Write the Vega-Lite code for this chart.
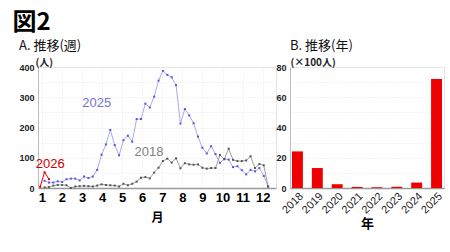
{
  "$schema": "https://vega.github.io/schema/vega-lite/v6.json",
  "background": "white",
  "padding": {"left": 12, "top": 10, "right": 4, "bottom": 2},
  "title": {"text": "図2", "anchor": "start", "fontSize": 24, "font": "Noto Sans CJK JP", "fontWeight": "bold", "color": "#000", "offset": 5, "dx": -6},
  "config": {
    "font": "Liberation Sans",
    "view": {"stroke": "#e4e4e4"},
    "concat": {"spacing": -2},
    "axis": {"ticks": false, "labelFont": "Liberation Sans", "gridColor": "#e6e6e6", "gridDash": [1, 2]}
  },
  "datasets": {
    "weekly": [
      {"series": "2025", "week": 1, "value": 24}, {"series": "2025", "week": 2, "value": 18}, {"series": "2025", "week": 3, "value": 18}, {"series": "2025", "week": 4, "value": 22},
      {"series": "2025", "week": 5, "value": 20}, {"series": "2025", "week": 6, "value": 29}, {"series": "2025", "week": 7, "value": 31}, {"series": "2025", "week": 8, "value": 31},
      {"series": "2025", "week": 9, "value": 25}, {"series": "2025", "week": 10, "value": 38}, {"series": "2025", "week": 11, "value": 33}, {"series": "2025", "week": 12, "value": 38},
      {"series": "2025", "week": 13, "value": 60}, {"series": "2025", "week": 14, "value": 110}, {"series": "2025", "week": 15, "value": 144}, {"series": "2025", "week": 16, "value": 192},
      {"series": "2025", "week": 17, "value": 142}, {"series": "2025", "week": 18, "value": 108}, {"series": "2025", "week": 19, "value": 158}, {"series": "2025", "week": 20, "value": 173},
      {"series": "2025", "week": 21, "value": 153}, {"series": "2025", "week": 22, "value": 228}, {"series": "2025", "week": 23, "value": 228}, {"series": "2025", "week": 24, "value": 279},
      {"series": "2025", "week": 25, "value": 266}, {"series": "2025", "week": 26, "value": 302}, {"series": "2025", "week": 27, "value": 355}, {"series": "2025", "week": 28, "value": 387},
      {"series": "2025", "week": 29, "value": 374}, {"series": "2025", "week": 30, "value": 366}, {"series": "2025", "week": 31, "value": 340}, {"series": "2025", "week": 32, "value": 213},
      {"series": "2025", "week": 33, "value": 261}, {"series": "2025", "week": 34, "value": 240}, {"series": "2025", "week": 35, "value": 214}, {"series": "2025", "week": 36, "value": 170},
      {"series": "2025", "week": 37, "value": 133}, {"series": "2025", "week": 38, "value": 114}, {"series": "2025", "week": 39, "value": 138}, {"series": "2025", "week": 40, "value": 112},
      {"series": "2025", "week": 41, "value": 83}, {"series": "2025", "week": 42, "value": 96}, {"series": "2025", "week": 43, "value": 94}, {"series": "2025", "week": 44, "value": 69},
      {"series": "2025", "week": 45, "value": 72}, {"series": "2025", "week": 46, "value": 59}, {"series": "2025", "week": 47, "value": 45}, {"series": "2025", "week": 48, "value": 60},
      {"series": "2025", "week": 49, "value": 55}, {"series": "2025", "week": 50, "value": 66}, {"series": "2025", "week": 51, "value": 40}, {"series": "2025", "week": 52, "value": 5},
      {"series": "2018", "week": 1, "value": 2}, {"series": "2018", "week": 2, "value": 3}, {"series": "2018", "week": 3, "value": 8}, {"series": "2018", "week": 4, "value": 10},
      {"series": "2018", "week": 5, "value": 10}, {"series": "2018", "week": 6, "value": 9}, {"series": "2018", "week": 7, "value": 0}, {"series": "2018", "week": 8, "value": 5},
      {"series": "2018", "week": 9, "value": 6}, {"series": "2018", "week": 10, "value": 7}, {"series": "2018", "week": 11, "value": 6}, {"series": "2018", "week": 12, "value": 5},
      {"series": "2018", "week": 13, "value": 8}, {"series": "2018", "week": 14, "value": 12}, {"series": "2018", "week": 15, "value": 10}, {"series": "2018", "week": 16, "value": 9},
      {"series": "2018", "week": 17, "value": 8}, {"series": "2018", "week": 18, "value": 5}, {"series": "2018", "week": 19, "value": 14}, {"series": "2018", "week": 20, "value": 9},
      {"series": "2018", "week": 21, "value": 14}, {"series": "2018", "week": 22, "value": 21}, {"series": "2018", "week": 23, "value": 34}, {"series": "2018", "week": 24, "value": 36},
      {"series": "2018", "week": 25, "value": 32}, {"series": "2018", "week": 26, "value": 51}, {"series": "2018", "week": 27, "value": 67}, {"series": "2018", "week": 28, "value": 89},
      {"series": "2018", "week": 29, "value": 97}, {"series": "2018", "week": 30, "value": 84}, {"series": "2018", "week": 31, "value": 98}, {"series": "2018", "week": 32, "value": 65},
      {"series": "2018", "week": 33, "value": 82}, {"series": "2018", "week": 34, "value": 78}, {"series": "2018", "week": 35, "value": 77}, {"series": "2018", "week": 36, "value": 78},
      {"series": "2018", "week": 37, "value": 67}, {"series": "2018", "week": 38, "value": 64}, {"series": "2018", "week": 39, "value": 66}, {"series": "2018", "week": 40, "value": 66},
      {"series": "2018", "week": 41, "value": 109}, {"series": "2018", "week": 42, "value": 95}, {"series": "2018", "week": 43, "value": 130}, {"series": "2018", "week": 44, "value": 93},
      {"series": "2018", "week": 45, "value": 89}, {"series": "2018", "week": 46, "value": 89}, {"series": "2018", "week": 47, "value": 91}, {"series": "2018", "week": 48, "value": 105},
      {"series": "2018", "week": 49, "value": 66}, {"series": "2018", "week": 50, "value": 79}, {"series": "2018", "week": 51, "value": 75}, {"series": "2018", "week": 52, "value": 5},
      {"series": "2026", "week": 0, "value": 4}, {"series": "2026", "week": 1, "value": 52}, {"series": "2026", "week": 2, "value": 29}
    ],
    "labels": [
      {"label": "2025", "week": 12.9, "value": 282},
      {"label": "2018", "week": 24.8, "value": 120},
      {"label": "2026", "week": 2.3, "value": 80}
    ],
    "yearly": [
      {"year": "2018", "value": 24.2}, {"year": "2019", "value": 13.2}, {"year": "2020", "value": 2.5}, {"year": "2021", "value": 0.7},
      {"year": "2022", "value": 0.5}, {"year": "2023", "value": 0.8}, {"year": "2024", "value": 3.6}, {"year": "2025", "value": 72}
    ]
  },
  "hconcat": [
    {
      "title": {"text": "A. 推移(週)", "anchor": "start", "frame": "bounds", "font": "Noto Sans CJK JP", "fontSize": 13, "fontWeight": "normal", "color": "#111", "offset": 4, "dx": 0},
      "width": 238,
      "height": 121,
      "encoding": {
        "x": {"field": "week", "type": "quantitative",
          "scale": {"domain": [-0.5, 53.8], "nice": false, "zero": false},
          "axis": {"values": [0.38, 4.96, 9.54, 14.12, 18.7, 23.28, 27.86, 32.44, 37.02, 41.6, 46.18, 50.76],
            "labelExpr": "round((datum.value - 0.38) / 4.58) + 1",
            "labelFontSize": 13, "labelFontWeight": "bold", "labelColor": "#000", "labelPadding": 3,
            "domainColor": "#999", "domainWidth": 1.5,
            "title": "月", "titleFont": "Noto Sans CJK JP", "titleFontSize": 12, "titleFontWeight": "bold", "titleColor": "#000", "titlePadding": 8}},
        "y": {"field": "value", "type": "quantitative",
          "scale": {"domain": [0, 400], "nice": false},
          "axis": {"values": [0, 50, 100, 150, 200, 250, 300, 350, 400],
            "labelExpr": "datum.value % 100 == 0 ? datum.label : ''",
            "labelFontSize": 9, "labelFontWeight": "bold", "labelColor": "#222", "labelPadding": 4,
            "domainColor": "#bbb",
            "title": "(人)", "titleAngle": 0, "titleX": -3, "titleY": 0, "titleAlign": "left", "titleBaseline": "bottom",
            "titleFont": "Noto Sans CJK JP", "titleFontSize": 10, "titleFontWeight": "bold", "titleColor": "#222"}}
      },
      "layer": [
        {
          "data": {"name": "weekly"},
          "mark": {"type": "line", "interpolate": "linear"},
          "encoding": {
            "stroke": {"field": "series", "type": "nominal", "scale": {"domain": ["2018", "2025", "2026"], "range": ["#9c9c9c", "#a9a9ee", "#e00000"]}, "legend": null},
            "strokeWidth": {"field": "series", "type": "nominal", "scale": {"domain": ["2018", "2025", "2026"], "range": [1, 1, 2]}, "legend": null}
          }
        },
        {
          "data": {"name": "weekly"},
          "mark": {"type": "point", "filled": true, "shape": "square", "opacity": 1},
          "encoding": {
            "fill": {"field": "series", "type": "nominal", "scale": {"domain": ["2018", "2025", "2026"], "range": ["#555555", "#5555dd", "#e00000"]}, "legend": null},
            "size": {"field": "series", "type": "nominal", "scale": {"domain": ["2018", "2025", "2026"], "range": [4, 4, 12]}, "legend": null}
          }
        },
        {
          "data": {"name": "labels"},
          "transform": [{"filter": "datum.label == '2025'"}],
          "mark": {"type": "text", "fontSize": 13, "color": "#7272d8", "font": "Liberation Sans"},
          "encoding": {"text": {"field": "label"}}
        },
        {
          "data": {"name": "labels"},
          "transform": [{"filter": "datum.label == '2018'"}],
          "mark": {"type": "text", "fontSize": 13, "color": "#808080", "font": "Liberation Sans"},
          "encoding": {"text": {"field": "label"}}
        },
        {
          "data": {"name": "labels"},
          "transform": [{"filter": "datum.label == '2026'"}],
          "mark": {"type": "text", "fontSize": 13, "color": "#cc0000", "font": "Liberation Sans"},
          "encoding": {"text": {"field": "label"}}
        }
      ]
    },
    {
      "title": {"text": "B. 推移(年)", "anchor": "start", "frame": "group", "font": "Noto Sans CJK JP", "fontSize": 13, "fontWeight": "normal", "color": "#111", "offset": 4},
      "width": 154,
      "height": 121,
      "data": {"name": "yearly"},
      "mark": {"type": "bar", "color": "#ee0000"},
      "encoding": {
        "x": {"field": "year", "type": "nominal", "sort": null,
          "scale": {"paddingInner": 0.45, "paddingOuter": 0.1},
          "axis": {"labelAngle": -45, "labelFontSize": 11, "labelColor": "#222", "labelPadding": 2, "grid": false,
            "domainColor": "#999", "domainWidth": 1.5,
            "title": "年", "titleFont": "Noto Sans CJK JP", "titleFontSize": 13, "titleFontWeight": "bold", "titleColor": "#000", "titlePadding": 2}},
        "y": {"field": "value", "type": "quantitative",
          "scale": {"domain": [0, 80], "nice": false},
          "axis": {"values": [0, 10, 20, 30, 40, 50, 60, 70, 80],
            "labelExpr": "datum.value % 20 == 0 ? datum.label : ''",
            "labelFontSize": 9, "labelFontWeight": "bold", "labelColor": "#222", "labelPadding": 4,
            "domainColor": "#bbb",
            "title": "(×100人)", "titleAngle": 0, "titleX": 0, "titleY": 0, "titleAlign": "left", "titleBaseline": "bottom",
            "titleFont": "Noto Sans CJK JP", "titleFontSize": 10, "titleFontWeight": "bold", "titleColor": "#222"}}
      }
    }
  ]
}
